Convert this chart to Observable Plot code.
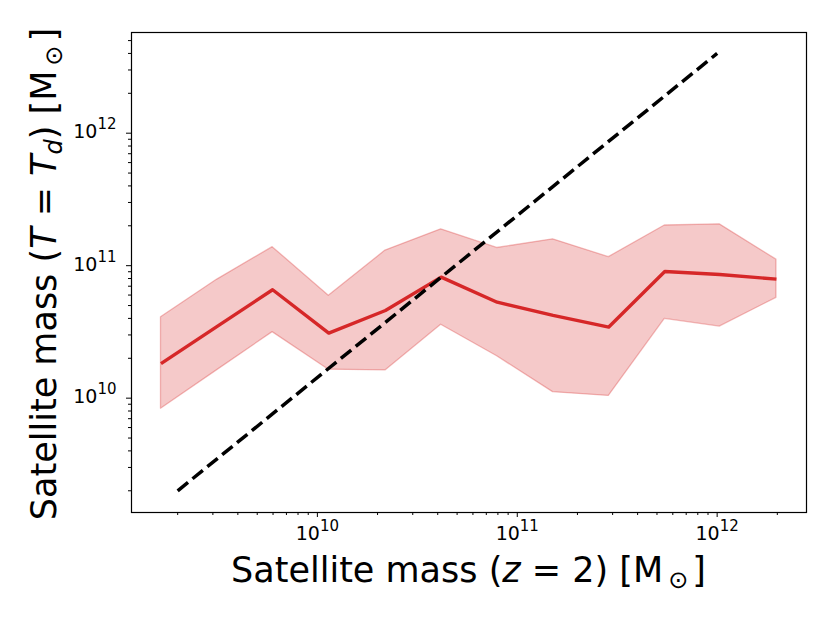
<!DOCTYPE html>
<html>
<head>
<meta charset="utf-8">
<script src="https://cdn.jsdelivr.net/npm/d3@7"></script>
<script src="https://cdn.jsdelivr.net/npm/@observablehq/plot@0.6"></script>
<style>
  html, body { margin: 0; padding: 0; background: #fff; }
  #chart svg { display: block; font-family: "DejaVu Sans", sans-serif; }
</style>
</head>
<body>
<div id="chart"></div>
<script>
// Satellite mass at z = 2 (bin centres)
const massZ2 = [1.65e9, 3.14e9, 5.97e9, 1.14e10, 2.19e10, 4.16e10, 7.93e10, 1.51e11, 2.87e11, 5.47e11, 1.03e12, 1.98e12];
// Satellite mass at T = T_d : median, upper and lower envelope
const medianMass = [1.82e10, 3.47e10, 6.58e10, 3.10e10, 4.59e10, 8.19e10, 5.30e10, 4.21e10, 3.44e10, 9.04e10, 8.58e10, 7.91e10];
const upperMass  = [4.08e10, 7.82e10, 1.38e11, 5.93e10, 1.30e11, 1.88e11, 1.36e11, 1.58e11, 1.16e11, 2.01e11, 2.05e11, 1.11e11];
const lowerMass  = [8.32e9, 1.62e10, 3.15e10, 1.64e10, 1.62e10, 3.58e10, 2.07e10, 1.11e10, 1.04e10, 3.97e10, 3.47e10, 5.72e10];
// Dashed reference line
const refX = [2e9, 1e12];
const refY = [2e9, 4e12];
// Ticks
const xMajorTicks = [1e10, 1e11, 1e12];
const yMajorTicks = [1e10, 1e11, 1e12];
const xDomain = [Math.pow(10, 9.07), Math.pow(10, 12.447)];
const yDomain = [Math.pow(10, 9.137), Math.pow(10, 12.76)];

function minorTicks(domain) {
  const out = [];
  for (let e = 8; e <= 13; e++) {
    for (let m = 2; m <= 9; m++) {
      const v = m * Math.pow(10, e);
      if (v >= domain[0] && v <= domain[1]) out.push(v);
    }
  }
  return out;
}
const fmtPow = d => "10^" + Math.round(Math.log10(d));

const data = massZ2.map((x, i) => ({x, med: medianMass[i], hi: upperMass[i], lo: lowerMass[i]}));
const ref = refX.map((x, i) => ({x, y: refY[i]}));

const red = "#d62728";
const chart = Plot.plot({
  width: 830,
  height: 623,
  marginLeft: 131,
  marginRight: 24,
  marginTop: 32,
  marginBottom: 111,
  style: {fontFamily: "DejaVu Sans, sans-serif", background: "#fff"},
  x: {type: "log", domain: xDomain},
  y: {type: "log", domain: yDomain},
  marks: [
    Plot.areaY(data, {x: "x", y1: "lo", y2: "hi", fill: red, fillOpacity: 0.25, stroke: red, strokeOpacity: 0.3, strokeWidth: 1.3}),
    Plot.lineY(data, {x: "x", y: "med", stroke: red, strokeWidth: 3.4, strokeLinecap: "butt"}),
    Plot.line(ref, {x: "x", y: "y", stroke: "#000", strokeWidth: 3.5, strokeDasharray: "13.3,5.8", strokeLinecap: "butt"}),
    Plot.frame({stroke: "#000", strokeWidth: 1.2}),
    Plot.axisX(xMajorTicks, {tickSize: 5, tickPadding: 9, tickFormat: fmtPow, label: null, stroke: "#000", color: "#000"}),
    Plot.axisX(minorTicks(xDomain), {tickSize: 3, tickFormat: () => "", label: null, stroke: "#000"}),
    Plot.axisY(yMajorTicks, {tickSize: 5, tickPadding: 10, tickFormat: fmtPow, label: null, stroke: "#000", color: "#000"}),
    Plot.axisY(minorTicks(yDomain), {tickSize: 3, tickFormat: () => "", label: null, stroke: "#000"})
  ]
});
document.getElementById("chart").appendChild(chart);

const svg = d3.select(chart);
// Turn "10^n" tick labels into 10 with a superscript exponent
svg.selectAll("text").each(function() {
  const t = d3.select(this);
  const s = t.text();
  if (!/^10\^\d+$/.test(s)) return;
  const [base, exp] = s.split("^");
  const anchor = getComputedStyle(this).textAnchor || this.getAttribute("text-anchor");
  const isY = anchor === "end";
  t.text(null).style("font-size", "19px").style("font-family", "DejaVu Sans, sans-serif").attr("fill", "#000");
  if (isY) t.attr("y", 5);
  t.append("tspan").text(base);
  t.append("tspan").style("font-size", "15px").attr("dy", -9).text(exp);
});

// X label
const xl = svg.append("text")
  .attr("x", (131 + 806) / 2).attr("y", 582)
  .attr("text-anchor", "middle").style("font-size", "35px").attr("fill", "#000")
  .style("font-family", "DejaVu Sans, sans-serif");
xl.append("tspan").text("Satellite mass (");
xl.append("tspan").attr("font-style", "italic").text("z");
xl.append("tspan").text(" = 2) [M");
xl.append("tspan").style("font-size", "24px").attr("dy", 6).attr("dx", 5).text("⊙");
xl.append("tspan").attr("dy", -6).attr("dx", 4).text("]");
// Y label
const yl = svg.append("text")
  .attr("transform", `translate(56, 274) rotate(-90)`)
  .attr("text-anchor", "middle").style("font-size", "35px").attr("fill", "#000")
  .style("font-family", "DejaVu Sans, sans-serif");
yl.append("tspan").text("Satellite mass (");
yl.append("tspan").attr("font-style", "italic").text("T");
yl.append("tspan").text(" = ");
yl.append("tspan").attr("font-style", "italic").text("T");
yl.append("tspan").attr("font-style", "italic").style("font-size", "24px").attr("dy", 6).text("d");
yl.append("tspan").attr("dy", -6).text(") [M");
yl.append("tspan").style("font-size", "24px").attr("dy", 6).attr("dx", 5).text("⊙");
yl.append("tspan").attr("dy", -6).attr("dx", 4).text("]");
</script>
</body>
</html>
